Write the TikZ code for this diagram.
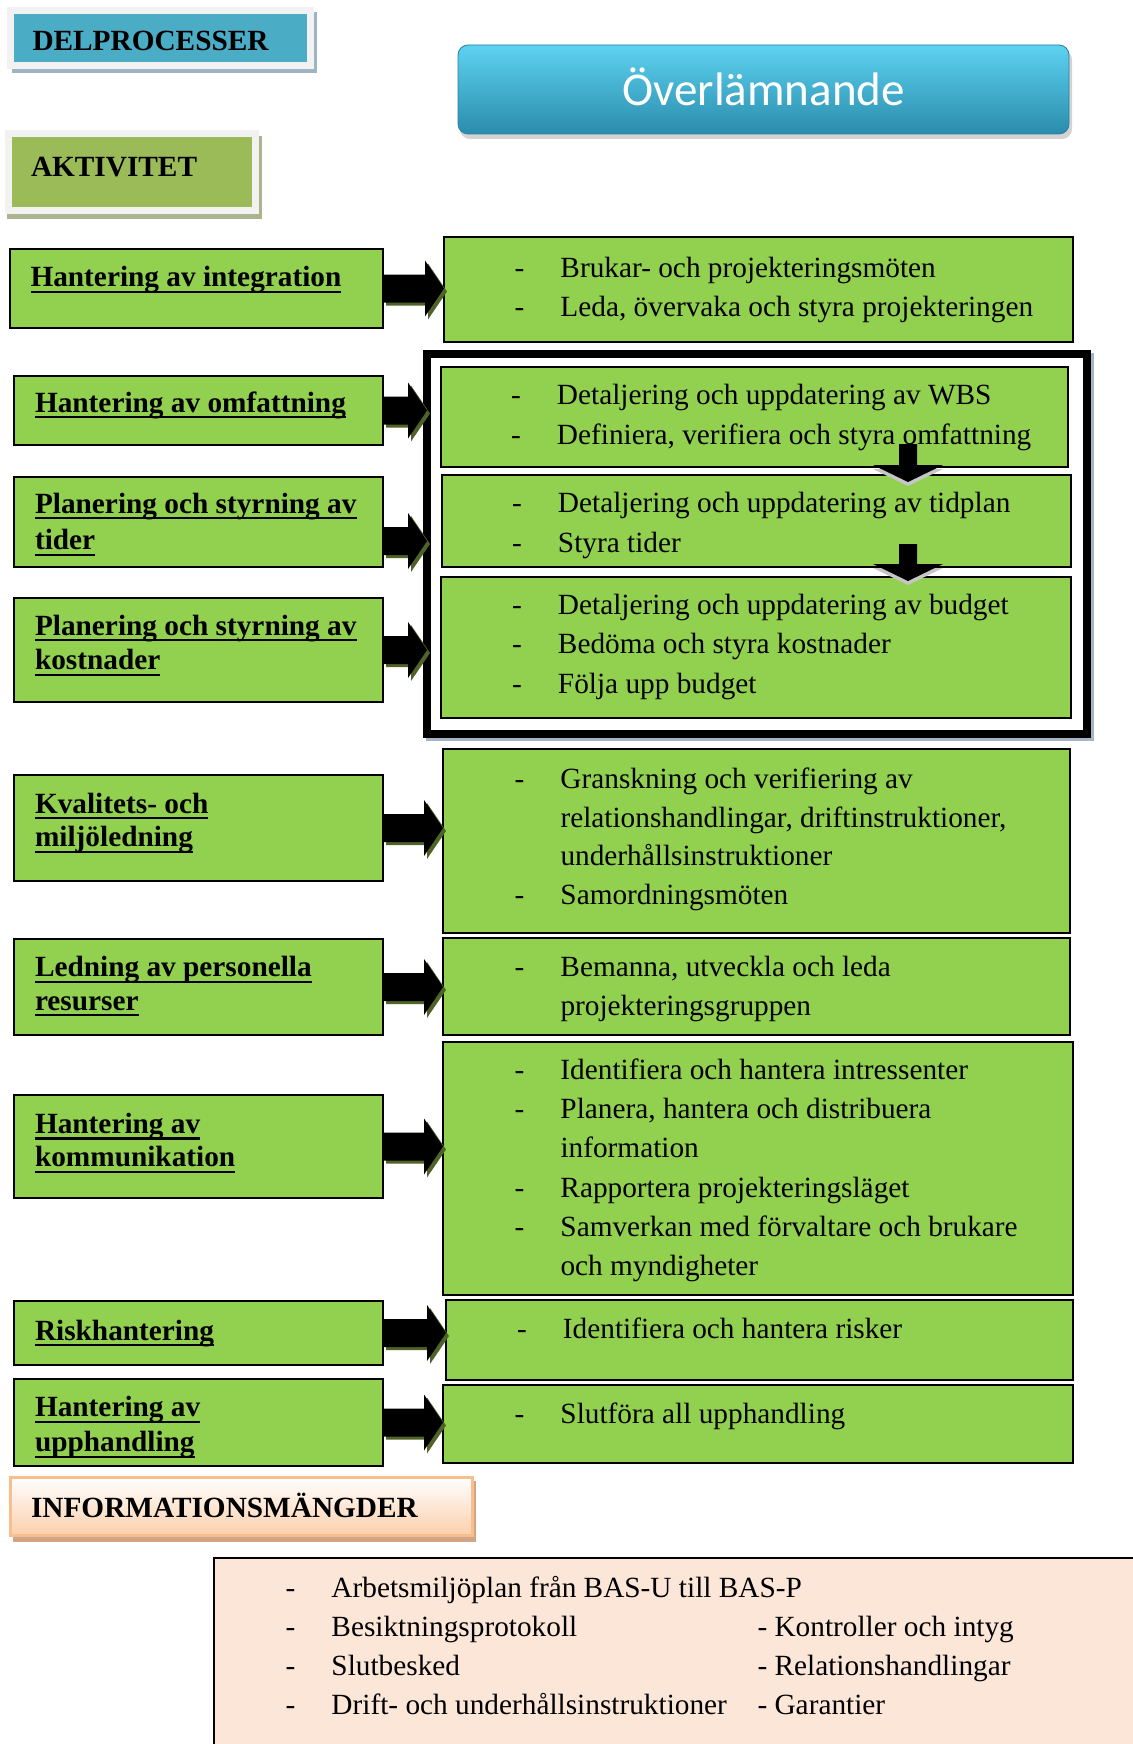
\documentclass[tikz,border=0pt]{standalone}
\usepackage{fontspec}
\setmainfont{Liberation Serif}
\newfontfamily\titlefont{Carlito}
\usetikzlibrary{calc}

\definecolor{boxgreen}{HTML}{92D050}
\definecolor{headblue}{HTML}{4BACC6}
\definecolor{headgreen}{HTML}{9BBB59}
\definecolor{framegrey}{HTML}{F2F2F2}
\definecolor{blueshadow}{HTML}{9FB4C2}
\definecolor{greenshadow}{HTML}{AAB48E}
\definecolor{arrowshadow}{HTML}{4F6228}
\definecolor{groupshadow}{HTML}{A7B4C5}
\definecolor{titletop}{HTML}{5ED2F1}
\definecolor{titlemid}{HTML}{3CBBE0}
\definecolor{titlebot}{HTML}{2A8CAC}
\definecolor{titleedge}{HTML}{2A7F9A}
\definecolor{infoborder}{HTML}{F9BE8E}
\definecolor{infobot}{HTML}{FBCFAB}
\definecolor{infoshadow}{HTML}{D2A684}
\definecolor{peach}{HTML}{FCE6D8}

% one line of a list: hyphen, then the item text at a fixed indent
\newcommand\dashline[1]{\hbox{\hbox to 46pt{-\hfil}#1}}
\newcommand\contline[1]{\hbox{\hskip46pt #1}}
\newcommand\plainline[1]{\hbox{#1}}
% stack of lines with a fixed baseline distance; baseline = first line
\newcommand\rowstack[2]{\vtop{\baselineskip=#1\lineskiplimit=-100pt\lineskip=0pt\relax #2}}
% underlined label text
\newcommand\ulword[1]{\setbox0=\hbox{#1}\rlap{\rule[-6.2pt]{\wd0}{2.2pt}}\box0}

% horizontal block arrow from #1 (start, gives y) to the x of #2
\newcommand\rightblock[2]{%
  \fill[arrowshadow] let \p1=#1, \p2=#2 in
    ({\x1+3pt},{\y1+11pt}) -- ({\x2-16pt},{\y1+11pt}) -- ({\x2-16pt},{\y1+25pt})
    -- ({\x2+3pt},{\y1-3pt}) -- ({\x2-16pt},{\y1-31pt}) -- ({\x2-16pt},{\y1-17pt})
    -- ({\x1+3pt},{\y1-17pt}) -- cycle;
  \fill[black] let \p1=#1, \p2=#2 in
    (\x1,{\y1+14pt}) -- ({\x2-19pt},{\y1+14pt}) -- ({\x2-19pt},{\y1+28pt})
    -- (\x2,\y1) -- ({\x2-19pt},{\y1-28pt}) -- ({\x2-19pt},{\y1-14pt})
    -- (\x1,{\y1-14pt}) -- cycle;}

% vertical block arrow from shaft top #1 down to tip #2
\newcommand\downblock[2]{%
  \fill[gray!45] let \p1=#1, \p2=#2 in
    ({\x2-9pt},{\y1-4pt}) -- ({\x2+9pt},{\y1-4pt}) -- ({\x2+9pt},{\y2+13pt})
    -- ({\x2+35pt},{\y2+13pt}) -- (\x2,{\y2-4pt}) -- ({\x2-35pt},{\y2+13pt})
    -- ({\x2-9pt},{\y2+13pt}) -- cycle;
  \fill[black] let \p1=#1, \p2=#2 in
    ({\x2-9pt},\y1) -- ({\x2+9pt},\y1) -- ({\x2+9pt},{\y2+17pt})
    -- ({\x2+35pt},{\y2+17pt}) -- (\x2,\y2) -- ({\x2-35pt},{\y2+17pt})
    -- ({\x2-9pt},{\y2+17pt}) -- cycle;}

\tikzset{
  greenbox/.style={draw=black, line width=2pt, fill=boxgreen, inner sep=0pt,
    outer sep=0pt, anchor=north west},
  headframe/.style={draw=framegrey, line width=7pt, inner sep=0pt, outer sep=0pt,
    anchor=north west},
  labeltext/.style={anchor=base west, inner sep=0pt, outer sep=0pt,
    font=\fontsize{29.3pt}{34pt}\selectfont\bfseries},
  listtext/.style={anchor=base west, inner sep=0pt, outer sep=0pt,
    font=\fontsize{29.3pt}{39pt}\selectfont},
}

\begin{document}
\begin{tikzpicture}[x=1pt, y=-1pt]
\useasboundingbox (0,0) rectangle (1132,1744);

% ---------- headers ----------
\fill[blueshadow] (12,12) rectangle (317,73);
\node[headframe, fill=headblue, minimum width=300pt, minimum height=55pt] (DP) at (10.5,10.5) {};
\node[labeltext] (DPt) at (32.5,51) {DELPROCESSER};

\fill[greenshadow] (7,136) rectangle (262,219);
\node[headframe, fill=headgreen, minimum width=247.5pt, minimum height=76.5pt] (AK) at (8,134) {};
\node[labeltext] (AKt) at (31,176.5) {AKTIVITET};

% ---------- title ----------
\fill[gray, opacity=0.35, rounded corners=10pt] (460,50) rectangle (1072,139);
\node[anchor=north west, inner sep=0pt, outer sep=0pt, rounded corners=10pt,
      top color=titletop, middle color=titlemid, bottom color=titlebot,
      draw=titleedge, line width=0.8pt, minimum width=611pt, minimum height=89pt] (T) at (458,45) {};
\node[anchor=base, inner sep=0pt, text=white, font=\titlefont\fontsize{47pt}{50pt}\selectfont] (Tt) at (763.5,106) {Överlämnande};

% ---------- activities (left) ----------
\node[greenbox, minimum width=373pt, minimum height=79pt]  (L1) at (10,249) {};
\node[greenbox, minimum width=369pt, minimum height=69pt]  (L2) at (14,376) {};
\node[greenbox, minimum width=369pt, minimum height=90pt]  (L3) at (14,477) {};
\node[greenbox, minimum width=369pt, minimum height=104pt] (L4) at (14,598) {};
\node[greenbox, minimum width=369pt, minimum height=106pt] (L5) at (14,775) {};
\node[greenbox, minimum width=369pt, minimum height=96pt]  (L6) at (14,939) {};
\node[greenbox, minimum width=369pt, minimum height=103pt] (L7) at (14,1095) {};
\node[greenbox, minimum width=369pt, minimum height=64pt]  (L8) at (14,1301) {};
\node[greenbox, minimum width=369pt, minimum height=87pt]  (L9) at (14,1379) {};

% ---------- tasks (right) ----------
\node[greenbox, minimum width=629pt, minimum height=105pt] (R1) at (444,237) {};

\fill[groupshadow] (426,353) rectangle (1094,741);
\node[anchor=north west, draw=black, line width=8pt, fill=white, inner sep=0pt, outer sep=0pt,
      minimum width=660pt, minimum height=380pt] (G) at (427,354) {};
\node[greenbox, minimum width=627pt, minimum height=100pt] (R2) at (441,367) {};
\node[greenbox, minimum width=629pt, minimum height=92pt]  (R3) at (442,475) {};
\node[greenbox, minimum width=630pt, minimum height=141pt] (R4) at (441,577) {};

\node[greenbox, minimum width=627pt, minimum height=184pt] (R5) at (443,749) {};
\node[greenbox, minimum width=627pt, minimum height=97pt]  (R6) at (443,938) {};
\node[greenbox, minimum width=630pt, minimum height=253pt] (R7) at (443,1042) {};
\node[greenbox, minimum width=627pt, minimum height=80pt]  (R8) at (446,1300) {};
\node[greenbox, minimum width=630pt, minimum height=78pt]  (R9) at (443,1385) {};

% ---------- arrows ----------
\coordinate (a3s) at ($(L3.east)+(0,19)$);
\rightblock{(L1.east)}{(R1.west)}
\rightblock{(L2.east)}{(G.west)}
\rightblock{(a3s)}{(G.west)}
\rightblock{(L4.east)}{(G.west)}
\rightblock{(L5.east)}{(R5.west)}
\rightblock{(L6.east)}{(R6.west)}
\rightblock{(L7.east)}{(R7.west)}
\rightblock{(L8.east)}{(R8.west)}
\rightblock{(L9.east)}{(R9.west)}

\coordinate (d1top) at (908,444);
\coordinate (d1tip) at (908,482);
\coordinate (d2top) at (908,544);
\coordinate (d2tip) at (908,581);
\downblock{(d1top)}{(d1tip)}
\downblock{(d2top)}{(d2tip)}

% ---------- activity labels ----------
\node[labeltext] (L1t) at (30.5,287) {\ulword{Hantering av integration}};
\node[labeltext] (L2t) at (35,412) {\ulword{Hantering av omfattning}};
\node[labeltext] (L3t) at (35,513) {\rowstack{36.5pt}{\plainline{\ulword{Planering och styrning av}}\plainline{\ulword{tider}}}};
\node[labeltext] (L4t) at (35,635) {\rowstack{34.5pt}{\plainline{\ulword{Planering och styrning av}}\plainline{\ulword{kostnader}}}};
\node[labeltext] (L5t) at (35,813) {\rowstack{33.5pt}{\plainline{\ulword{Kvalitets- och}}\plainline{\ulword{miljöledning}}}};
\node[labeltext] (L6t) at (35,976.5) {\rowstack{33.5pt}{\plainline{\ulword{Ledning av personella}}\plainline{\ulword{resurser}}}};
\node[labeltext] (L7t) at (35,1133.3) {\rowstack{33.4pt}{\plainline{\ulword{Hantering av}}\plainline{\ulword{kommunikation}}}};
\node[labeltext] (L8t) at (35,1340) {\ulword{Riskhantering}};
\node[labeltext] (L9t) at (35,1416.7) {\rowstack{35pt}{\plainline{\ulword{Hantering av}}\plainline{\ulword{upphandling}}}};

% ---------- task lists ----------
\node[listtext] (R1t) at (514.5,277) {\rowstack{39pt}{%
  \dashline{Brukar- och projekteringsmöten}%
  \dashline{Leda, övervaka och styra projekteringen}}};
\node[listtext] (R2t) at (511,404) {\rowstack{40.5pt}{%
  \dashline{Detaljering och uppdatering av WBS}%
  \dashline{Definiera, verifiera och styra omfattning}}};
\node[listtext] (R3t) at (512,512) {\rowstack{40pt}{%
  \dashline{Detaljering och uppdatering av tidplan}%
  \dashline{Styra tider}}};
\node[listtext] (R4t) at (512,614) {\rowstack{39.5pt}{%
  \dashline{Detaljering och uppdatering av budget}%
  \dashline{Bedöma och styra kostnader}%
  \dashline{Följa upp budget}}};
\node[listtext] (R5t) at (514.5,788.5) {\rowstack{38.7pt}{%
  \dashline{Granskning och verifiering av}%
  \contline{relationshandlingar, driftinstruktioner,}%
  \contline{underhållsinstruktioner}%
  \dashline{Samordningsmöten}}};
\node[listtext] (R6t) at (514.5,976.5) {\rowstack{38.5pt}{%
  \dashline{Bemanna, utveckla och leda}%
  \contline{projekteringsgruppen}}};
\node[listtext] (R7t) at (514.5,1079.5) {\rowstack{39.2pt}{%
  \dashline{Identifiera och hantera intressenter}%
  \dashline{Planera, hantera och distribuera}%
  \contline{information}%
  \dashline{Rapportera projekteringsläget}%
  \dashline{Samverkan med förvaltare och brukare}%
  \contline{och myndigheter}}};
\node[listtext] (R8t) at (517,1338.5) {\rowstack{39pt}{\dashline{Identifiera och hantera risker}}};
\node[listtext] (R9t) at (514.5,1423.5) {\rowstack{39pt}{\dashline{Slutföra all upphandling}}};

% ---------- information sets ----------
\fill[infoshadow] (13,1481) rectangle (476,1542);
\node[anchor=north west, inner sep=0pt, outer sep=0pt, draw=infoborder, line width=3pt,
      top color=white, bottom color=infobot, minimum width=462pt, minimum height=58pt] (IM) at (10.5,1477.5) {};
\node[labeltext] (IMt) at (31,1517.5) {INFORMATIONSMÄNGDER};

\node[anchor=north west, inner sep=0pt, outer sep=0pt, draw=black, line width=2.5pt,
      fill=peach, minimum width=940pt, minimum height=220pt] (IL) at (214,1558) {};
\node[listtext] (IL1) at (285.5,1597.5) {\rowstack{39pt}{%
  \dashline{Arbetsmiljöplan från BAS-U till BAS-P}%
  \dashline{Besiktningsprotokoll}%
  \dashline{Slutbesked}%
  \dashline{Drift- och underhållsinstruktioner}}};
\node[listtext] (IL2) at (757.5,1636.5) {\rowstack{39pt}{%
  \plainline{- Kontroller och intyg}%
  \plainline{- Relationshandlingar}%
  \plainline{- Garantier}}};
\end{tikzpicture}
\end{document}
